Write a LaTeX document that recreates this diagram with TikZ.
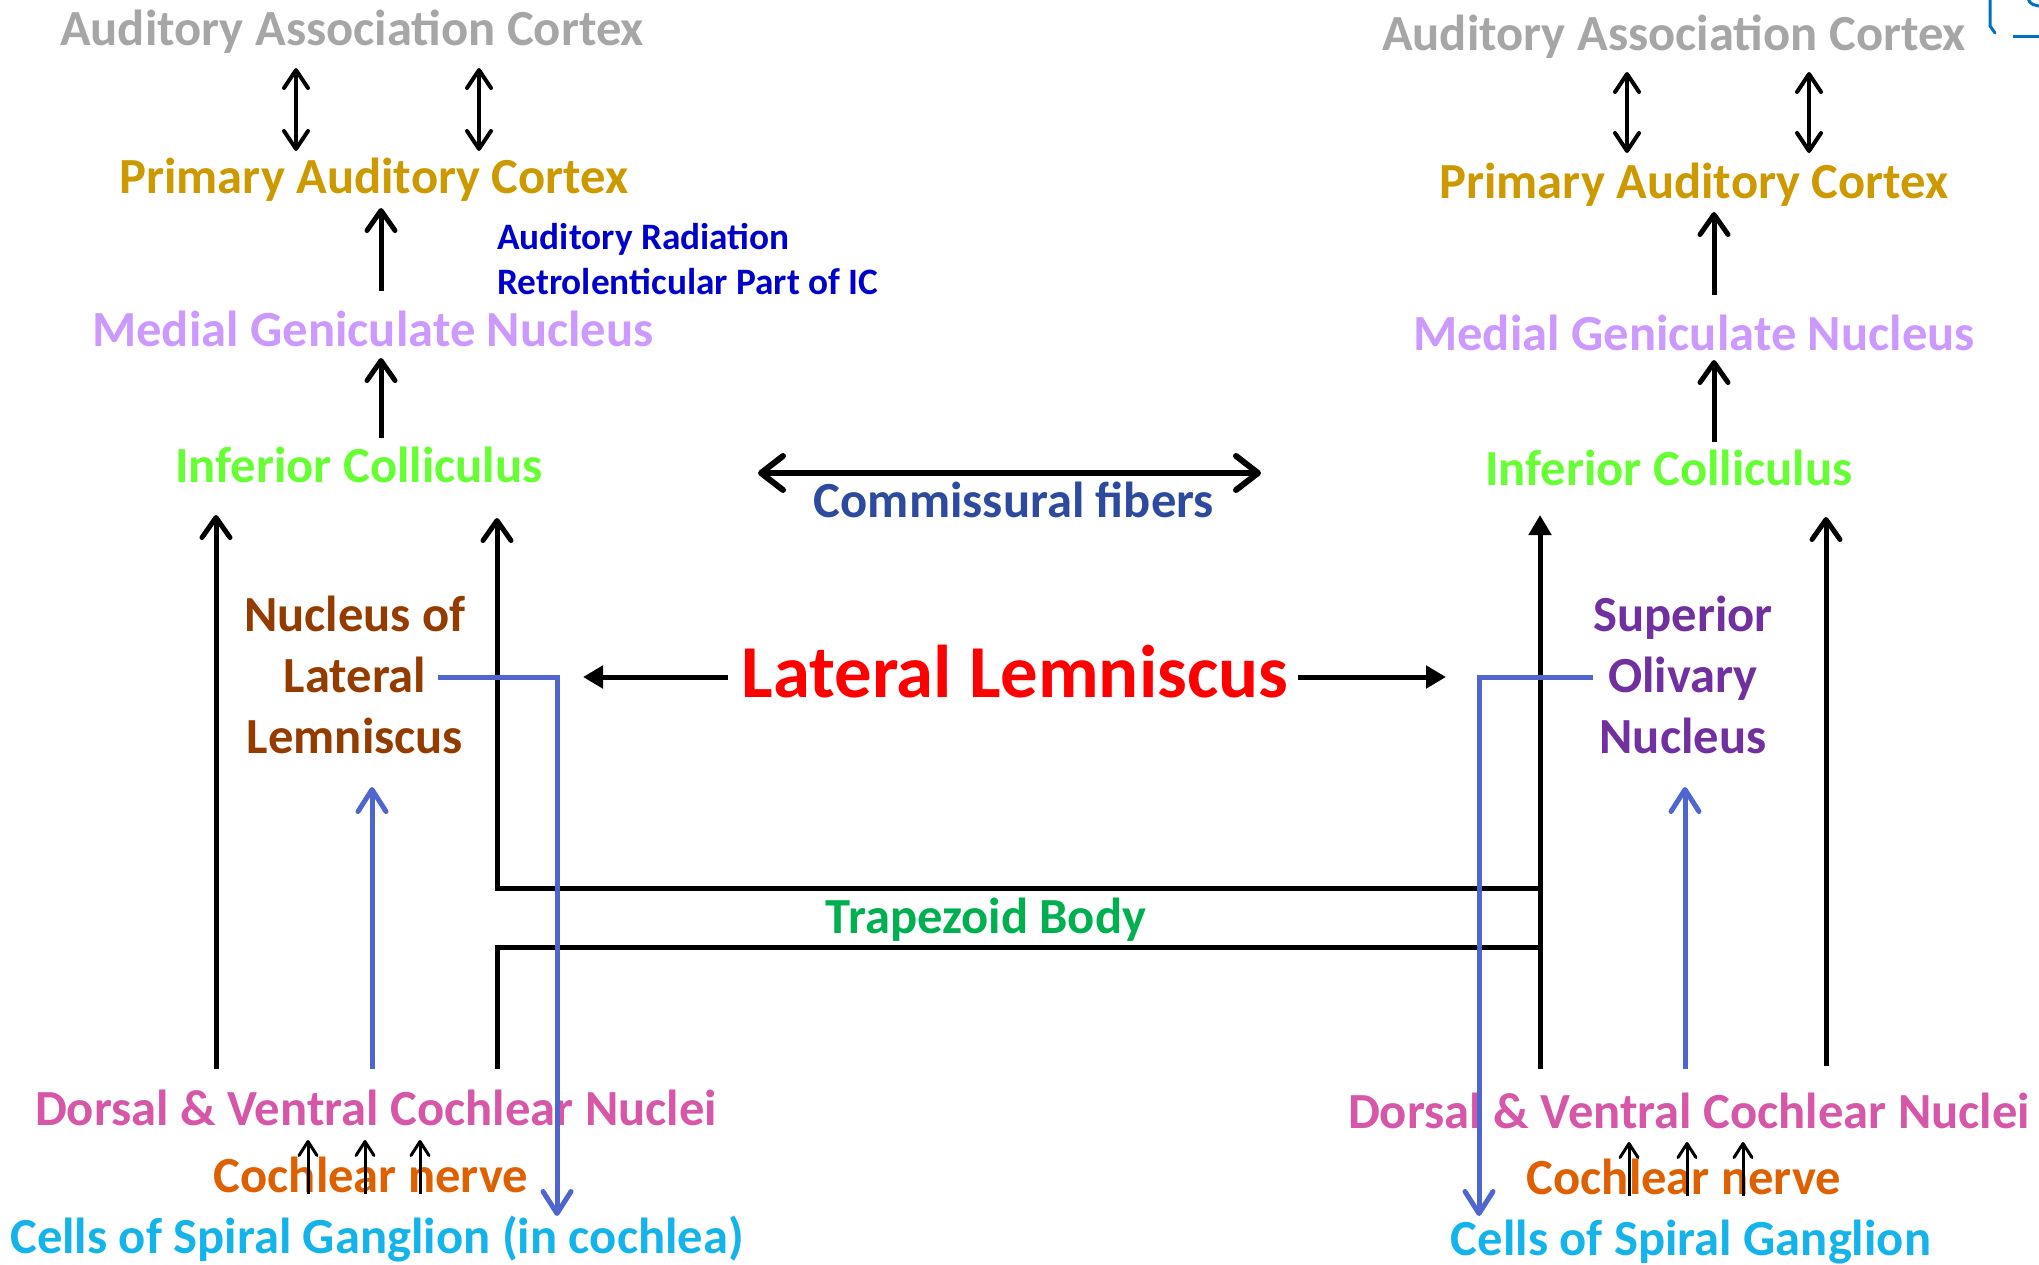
\documentclass[tikz,border=0pt]{standalone}
\usepackage{fontspec}
\setmainfont{Carlito}
\usetikzlibrary{arrows.meta}
\definecolor{cgray}{HTML}{A6A6A6}
\definecolor{cgold}{HTML}{CC9A00}
\definecolor{cradi}{HTML}{0000CC}
\definecolor{cmgn}{HTML}{CC99FF}
\definecolor{cic}{HTML}{66FF33}
\definecolor{ccom}{HTML}{2E4A9F}
\definecolor{cll}{HTML}{FF0000}
\definecolor{cnll}{HTML}{943C00}
\definecolor{cson}{HTML}{7030A0}
\definecolor{ctz}{HTML}{00B050}
\definecolor{cdvcn}{HTML}{D656A8}
\definecolor{cnerve}{HTML}{DE6000}
\definecolor{csg}{HTML}{14B4EB}
\definecolor{cblue}{HTML}{4F66CF}
\definecolor{cicon}{HTML}{0070C0}
\begin{document}
\begin{tikzpicture}[x=1pt,y=-1pt,
  lbl/.style={anchor=base, inner sep=0pt, font=\fontsize{50.6}{61}\selectfont\bfseries},
  smalllbl/.style={anchor=base west, inner sep=0pt, font=\fontsize{37.3}{45}\selectfont\bfseries},
  biglbl/.style={anchor=base, inner sep=0pt, font=\fontsize{74.7}{90}\selectfont\bfseries},
  arr/.style={line width=5pt, -{Straight Barb[length=20pt,width=28pt,round]}},
  dbl/.style={line width=4pt, {Straight Barb[length=18pt,width=24pt,round]}-{Straight Barb[length=18pt,width=24pt,round]}},
  cdbl/.style={line width=6pt, {Straight Barb[length=22pt,width=34pt,round]}-{Straight Barb[length=22pt,width=34pt,round]}},
  tri/.style={line width=5pt, -{Triangle[length=20pt,width=22pt]}},
  blarr/.style={draw=cblue, line width=5pt, -{Straight Barb[length=22pt,width=28pt,round]}},
  nerve/.style={line width=3pt, -{Straight Barb[length=14pt,width=18pt,round]}}
]
\useasboundingbox (0,0) rectangle (2039,1264);

% ---------- left column texts
\node[lbl, text=cgray] (aacL) at (352,45) {Auditory Association Cortex};
\node[lbl, text=cgold] (pacL) at (374,193) {Primary Auditory Cortex};
\node[smalllbl, text=cradi] (radi) at (497,249) {Auditory Radiation};
\node[smalllbl, text=cradi] (retro) at (497,294) {Retrolenticular Part of IC};
\node[lbl, text=cmgn] (mgnL) at (373,346) {Medial Geniculate Nucleus};
\node[lbl, text=cic] (icL) at (359,482) {Inferior Colliculus};
\node[lbl, text=cnll] (nll) at (355,631) {\begin{tabular}[t]{@{}c@{}}Nucleus of\\Lateral\\Lemniscus\end{tabular}};
\node[lbl, text=cdvcn] (dvcnL) at (376,1125) {Dorsal \& Ventral Cochlear Nuclei};
\node[lbl, text=cnerve] (cnL) at (371,1192) {Cochlear nerve};
\node[lbl, text=csg] (csgL) at (377,1253) {Cells of Spiral Ganglion (in cochlea)};

% ---------- right column texts
\node[lbl, text=cgray] (aacR) at (1674,50) {Auditory Association Cortex};
\node[lbl, text=cgold] (pacR) at (1694,198) {Primary Auditory Cortex};
\node[lbl, text=cmgn] (mgnR) at (1694,350) {Medial Geniculate Nucleus};
\node[lbl, text=cic] (icR) at (1669,485) {Inferior Colliculus};
\node[lbl, text=cson] (son) at (1683,631) {\begin{tabular}[t]{@{}c@{}}Superior\\Olivary\\Nucleus\end{tabular}};
\node[lbl, text=cdvcn] (dvcnR) at (1689,1128) {Dorsal \& Ventral Cochlear Nuclei};
\node[lbl, text=cnerve] (cnR) at (1684,1194) {Cochlear nerve};
\node[lbl, text=csg] (csgR) at (1691,1255) {Cells of Spiral Ganglion};

% ---------- middle texts
\node[lbl, text=ccom] (comm) at (1014,517) {Commissural fibers};
\node[biglbl, text=cll] (ll) at (1015,697) {Lateral Lemniscus};
\node[lbl, text=ctz] (tz) at (986,933) {Trapezoid Body};

% ---------- coordinates
\coordinate (a1b) at (296,151); \coordinate (a1t) at (296,68);
\coordinate (a2b) at (479,151); \coordinate (a2t) at (479,68);
\coordinate (a3b) at (1627,153); \coordinate (a3t) at (1627,72);
\coordinate (a4b) at (1809,153); \coordinate (a4t) at (1809,72);
\coordinate (p1b) at (381,291); \coordinate (p1t) at (381,208);
\coordinate (p2b) at (381,438); \coordinate (p2t) at (381,358);
\coordinate (p3b) at (1714,295); \coordinate (p3t) at (1714,212);
\coordinate (p4b) at (1714,442); \coordinate (p4t) at (1714,360);
\coordinate (lfb) at (216,1069); \coordinate (lft) at (216,515);
\coordinate (ltb) at (497,1069); \coordinate (ltt) at (497,518);
\coordinate (rtb) at (1540,1069); \coordinate (rtt) at (1540,515);
\coordinate (rfb) at (1826,1066); \coordinate (rft) at (1826,517);
\coordinate (tzTop) at (497,888); \coordinate (tzBot) at (1540,947);
\coordinate (nllS) at (438,677); \coordinate (nllE) at (557,1216);
\coordinate (sonS) at (1593,677); \coordinate (sonE) at (1479,1216);
\coordinate (buLb) at (372,1069); \coordinate (buLt) at (372,787);
\coordinate (buRb) at (1685,1069); \coordinate (buRt) at (1685,787);
\coordinate (llLs) at (728,677); \coordinate (llLe) at (583,677);
\coordinate (llRs) at (1298,677); \coordinate (llRe) at (1446,677);
\coordinate (cmL) at (758,473); \coordinate (cmR) at (1261,473);

% ---------- connectors
\draw[dbl] (a1b) -- (a1t);
\draw[dbl] (a2b) -- (a2t);
\draw[dbl] (a3b) -- (a3t);
\draw[dbl] (a4b) -- (a4t);
\draw[arr] (p1b) -- (p1t);
\draw[arr] (p2b) -- (p2t);
\draw[arr] (p3b) -- (p3t);
\draw[arr] (p4b) -- (p4t);
\draw[arr] (lfb) -- (lft);
\draw[arr] (rfb) -- (rft);
\draw[arr] (rtb) |- (tzTop) -- (ltt);
\draw[tri] (ltb) |- (tzBot) -- (rtt);
\draw[blarr] (nllS) -| (nllE);
\draw[blarr] (sonS) -| (sonE);
\draw[blarr] (buLb) -- (buLt);
\draw[blarr] (buRb) -- (buRt);
\draw[tri] (llLs) -- (llLe);
\draw[tri] (llRs) -- (llRe);
\draw[cdbl] (cmL) -- (cmR);

\foreach \x in {308,365,420}{\draw[nerve] (\x,1194) -- (\x,1140);}
\foreach \x in {1629,1687,1743}{\draw[nerve] (\x,1196) -- (\x,1142);}

% ---------- top-right partial icon
\draw[cicon, line width=3pt, line cap=round] (1990,-2) -- (1990,26) -- (1995,33);
\draw[cicon, line width=3pt] (2013,36) -- (2042,36);
\draw[cicon, line width=3pt] (2028,-2) .. controls (2029,4) and (2034,6) .. (2042,6);
\end{tikzpicture}
\end{document}
